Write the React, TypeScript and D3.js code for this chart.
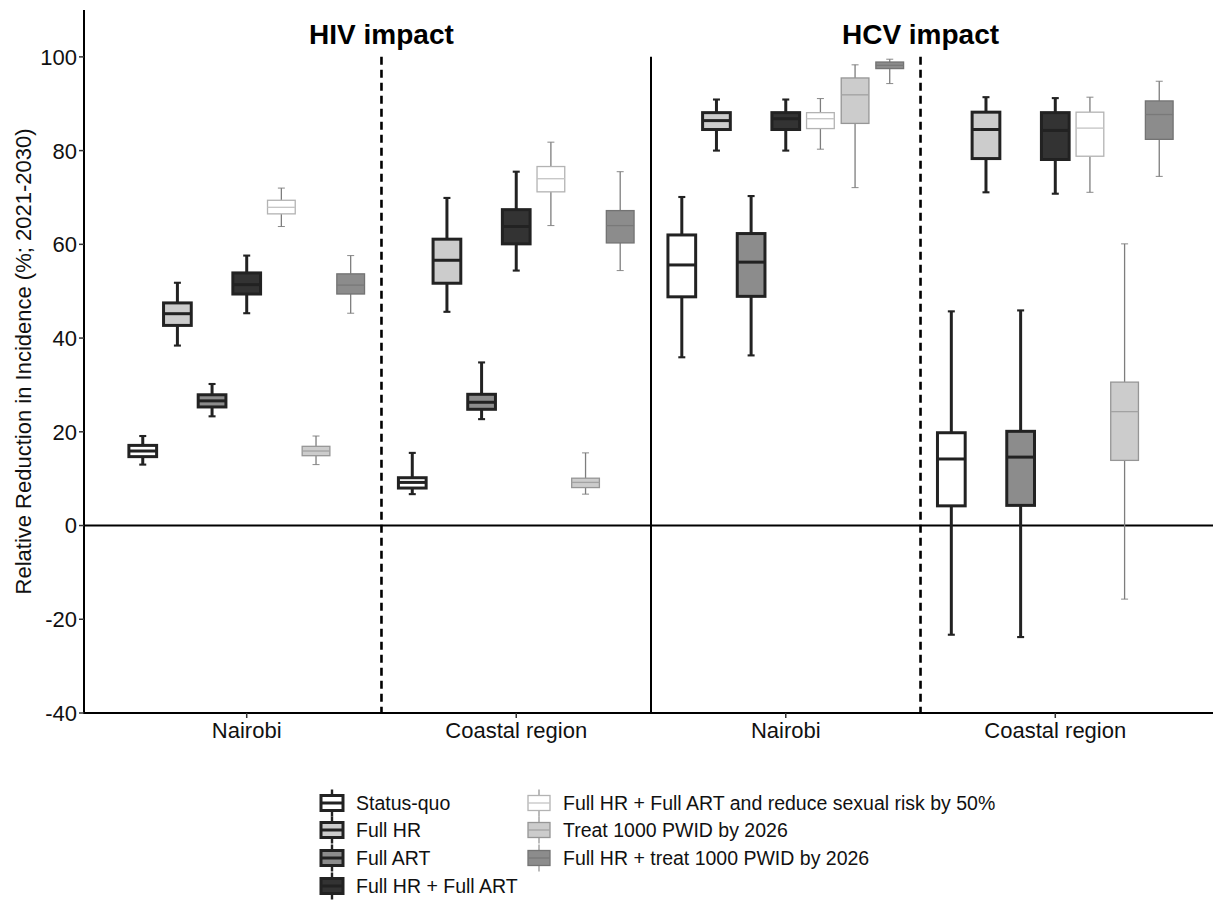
import React from 'react';
import * as d3 from 'd3';

// categories along the x axis (HIV panel first, then HCV panel)
const categories = ['Nairobi', 'Coastal region', 'Nairobi', 'Coastal region'];
const impacts = ['HIV impact', 'HCV impact'];

const scenarios = [
  'Status-quo',
  'Full HR',
  'Full ART',
  'Full HR + Full ART',
  'Full HR + Full ART and reduce sexual risk by 50%',
  'Treat 1000 PWID by 2026',
  'Full HR + treat 1000 PWID by 2026',
];

// [lower whisker, q1, median, q3, upper whisker] per scenario
const hivNairobi = [
  [13.0, 14.7, 15.9, 17.1, 19.1],
  [38.4, 42.7, 45.2, 47.5, 51.8],
  [23.3, 25.3, 26.6, 27.9, 30.2],
  [45.3, 49.4, 51.4, 53.9, 57.6],
  [63.8, 66.5, 67.9, 69.4, 72.0],
  [13.0, 14.9, 15.9, 16.9, 19.1],
  [45.3, 49.4, 51.3, 53.7, 57.6],
];
const hivCoastal = [
  [6.7, 8.0, 9.2, 10.2, 15.5],
  [45.6, 51.7, 56.6, 61.1, 69.9],
  [22.7, 24.8, 26.3, 28.0, 34.8],
  [54.4, 60.1, 63.8, 67.4, 75.5],
  [64.0, 71.2, 74.0, 76.6, 81.8],
  [6.7, 8.1, 9.2, 10.1, 15.5],
  [54.4, 60.3, 64.0, 67.2, 75.5],
];
const hcvNairobi = [
  [35.9, 48.8, 55.6, 62.0, 70.1],
  [80.0, 84.5, 86.4, 88.1, 90.9],
  [36.3, 48.9, 56.2, 62.3, 70.3],
  [80.0, 84.5, 86.8, 88.1, 90.9],
  [80.3, 84.7, 86.8, 88.1, 91.1],
  [72.1, 85.8, 91.9, 95.5, 98.3],
  [94.3, 97.5, 98.2, 98.9, 99.5],
];
const hcvCoastal = [
  [-23.3, 4.2, 14.2, 19.8, 45.7],
  [71.1, 78.3, 84.5, 88.2, 91.4],
  [-23.8, 4.3, 14.6, 20.1, 45.9],
  [70.8, 78.1, 84.3, 88.1, 91.2],
  [71.1, 78.8, 84.8, 88.2, 91.4],
  [-15.7, 13.9, 24.3, 30.6, 60.1],
  [74.5, 82.4, 87.7, 90.6, 94.8],
];
const groupStats = [hivNairobi, hivCoastal, hcvNairobi, hcvCoastal];

const fills = ['#ffffff', '#cccccc', '#8c8c8c', '#333333', '#ffffff', '#cccccc', '#8c8c8c'];
const thick = [true, true, true, true, false, false, false];

const W = 1213;
const H = 900;
const FONT = '"Liberation Sans", Arial, Helvetica, sans-serif';

const styleFor = (i: number) => {
  if (thick[i]) {
    return { stroke: '#222222', median: '#222222', whisker: '#222222', sw: 3, ww: 3 };
  }
  const f = fills[i];
  return {
    stroke: d3.interpolateRgb(f, '#555555')(0.45),
    median: d3.interpolateRgb(f, '#555555')(0.35),
    whisker: '#7d7d7d',
    sw: 1.3,
    ww: 1.3,
  };
};

const App: React.FC = () => {
  const x = d3.scaleLinear().domain([0.4, 4.6]).range([85, 1217]);
  const y = d3.scaleLinear().domain([-40, 110]).range([713, 10]);
  const unit = x(2) - x(1);
  const slot = (0.9 / scenarios.length) * unit;
  const boxW = slot * 0.8;
  const capW = 7;
  const left = 84;
  const bottom = 713;

  const legendCol = [
    { keyX: 332, textX: 356 },
    { keyX: 539, textX: 563 },
  ];
  const legendRows = [803, 830, 858, 886];

  return (
    <svg
      width={W}
      height={H}
      style={{ position: 'absolute', left: 0, top: 0, background: '#fff' }}
      fontFamily={FONT}
    >
      <defs>
        <clipPath id="panel-clip">
          <rect x={left} y={0} width={W - left} height={bottom} />
        </clipPath>
      </defs>

      {/* zero line */}
      <line x1={left} x2={W} y1={y(0)} y2={y(0)} stroke="#000" strokeWidth={2} />

      {/* separators between groups */}
      {[1.5, 2.5, 3.5].map((v, i) => (
        <line
          key={'sep' + i}
          x1={x(v)}
          x2={x(v)}
          y1={y(100)}
          y2={bottom}
          stroke="#000"
          strokeWidth={i === 1 ? 2 : 2.6}
          strokeDasharray={i === 1 ? undefined : '8,5'}
        />
      ))}

      {/* boxes */}
      <g clipPath="url(#panel-clip)">
        {groupStats.map((stats, g) =>
          stats.map((s, i) => {
            const cx = x(g + 1) + (i - (scenarios.length - 1) / 2) * slot;
            const st = styleFor(i);
            const [lo, q1, med, q3, hi] = s;
            return (
              <g key={`b${g}-${i}`}>
                <line x1={cx} x2={cx} y1={y(hi)} y2={y(q3)} stroke={st.whisker} strokeWidth={st.ww} />
                <line x1={cx} x2={cx} y1={y(q1)} y2={y(lo)} stroke={st.whisker} strokeWidth={st.ww} />
                <line x1={cx - capW / 2} x2={cx + capW / 2} y1={y(hi)} y2={y(hi)} stroke={st.whisker} strokeWidth={st.ww * 0.7} />
                <line x1={cx - capW / 2} x2={cx + capW / 2} y1={y(lo)} y2={y(lo)} stroke={st.whisker} strokeWidth={st.ww * 0.7} />
                <rect
                  x={cx - boxW / 2}
                  y={y(q3)}
                  width={boxW}
                  height={y(q1) - y(q3)}
                  fill={fills[i]}
                  stroke={st.stroke}
                  strokeWidth={st.sw}
                />
                <line x1={cx - boxW / 2} x2={cx + boxW / 2} y1={y(med)} y2={y(med)} stroke={st.median} strokeWidth={st.sw} />
              </g>
            );
          })
        )}
      </g>

      {/* axes */}
      <line x1={left} x2={left} y1={10} y2={bottom + 1} stroke="#000" strokeWidth={2} />
      <line x1={left - 1} x2={W} y1={bottom} y2={bottom} stroke="#000" strokeWidth={2} />
      {y.ticks(8).map(t => (
        <g key={'yt' + t}>
          <line x1={left - 5} x2={left} y1={y(t)} y2={y(t)} stroke="#333" strokeWidth={1.5} />
          <text x={left - 7} y={y(t)} dy="0.36em" textAnchor="end" fontSize={22} fill="#111">
            {t}
          </text>
        </g>
      ))}
      {categories.map((c, i) => (
        <g key={'xt' + i}>
          <line x1={x(i + 1)} x2={x(i + 1)} y1={bottom} y2={bottom + 5} stroke="#333" strokeWidth={1.5} />
          <text x={x(i + 1)} y={bottom + 25} textAnchor="middle" fontSize={22} fill="#111">
            {c}
          </text>
        </g>
      ))}

      {/* y title */}
      <text
        transform={`translate(31, ${(10 + bottom) / 2}) rotate(-90)`}
        textAnchor="middle"
        fontSize={22}
        fill="#111"
      >
        Relative Reduction in Incidence (%; 2021-2030)
      </text>

      {/* panel titles */}
      {impacts.map((t, i) => (
        <text key={t} x={x(1.5 + 2 * i)} y={44} textAnchor="middle" fontSize={28} fontWeight="bold" fill="#000">
          {t}
        </text>
      ))}

      {/* legend */}
      {scenarios.map((s, i) => {
        const col = i < 4 ? 0 : 1;
        const row = i < 4 ? i : i - 4;
        const cy = legendRows[row];
        const kx = legendCol[col].keyX;
        const st = styleFor(i);
        const kw = 22;
        const kh = 15;
        return (
          <g key={'lg' + i}>
            <line x1={kx} x2={kx} y1={cy - 13.5} y2={cy + 13.5} stroke={st.whisker} strokeWidth={st.ww * 0.8} />
            <rect x={kx - kw / 2} y={cy - kh / 2} width={kw} height={kh} fill={fills[i]} stroke={st.stroke} strokeWidth={st.sw} />
            <line x1={kx - kw / 2} x2={kx + kw / 2} y1={cy} y2={cy} stroke={st.median} strokeWidth={st.sw} />
            <text x={legendCol[col].textX} y={cy} dy="0.36em" fontSize={19.5} fill="#111">
              {s}
            </text>
          </g>
        );
      })}
    </svg>
  );
};

export default App;
